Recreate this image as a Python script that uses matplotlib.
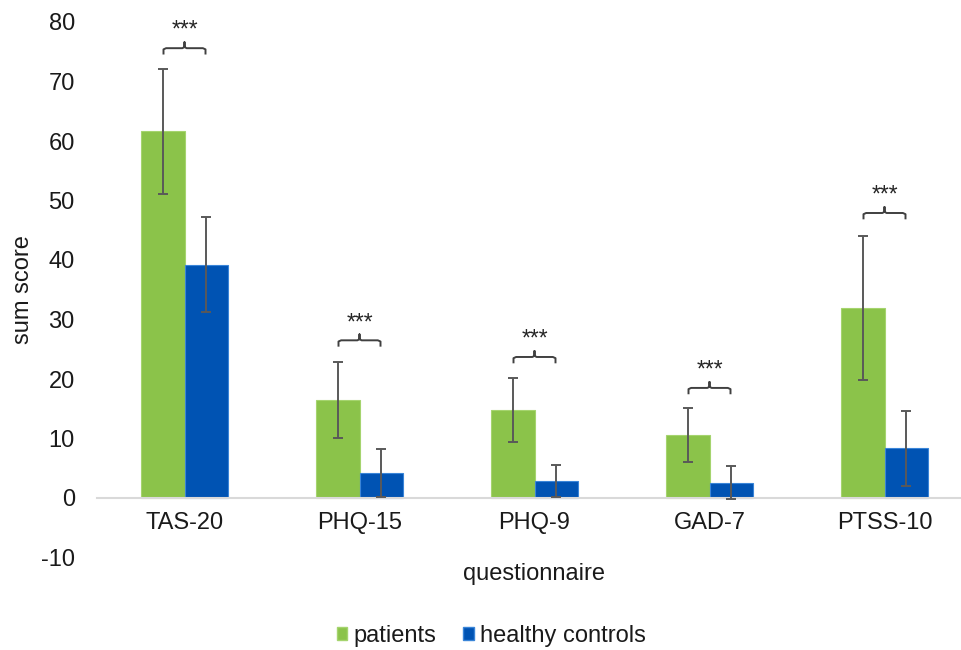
import numpy as np
import matplotlib
matplotlib.use("Agg")
import matplotlib.pyplot as plt
from matplotlib.patches import Patch

plt.rcParams['font.family'] = ['Liberation Sans', 'DejaVu Sans']
plt.rcParams['axes.unicode_minus'] = False

# values
questionnaires = ["TAS-20", "PHQ-15", "PHQ-9", "GAD-7", "PTSS-10"]
patients_mean = [61.6, 16.5, 14.8, 10.6, 31.9]
patients_sd = [10.5, 6.4, 5.4, 4.6, 12.1]
controls_mean = [39.2, 4.2, 2.85, 2.6, 8.4]
controls_sd = [8.0, 4.0, 2.7, 2.7, 6.3]
bracket_y = [75.6, 26.5, 23.7, 18.5, 47.9]
signif = ["***", "***", "***", "***", "***"]

green = "#8bc34a"
blue = "#0053b3"
err_col = "#595959"

fig = plt.figure(figsize=(9.61, 6.5), dpi=100)
ax = fig.add_axes([97 / 961, 92.5 / 650, 875 / 961, 535.5 / 650])

x = np.arange(len(questionnaires))
w = 0.25

ax.bar(x - w / 2, patients_mean, w, color=green, edgecolor="#a5d46e", linewidth=0.8,
       label="patients", zorder=2)
ax.bar(x + w / 2, controls_mean, w, color=blue, edgecolor="#3a85d8", linewidth=0.8,
       label="healthy controls", zorder=2)
ax.errorbar(x - w / 2, patients_mean, yerr=patients_sd, fmt="none", ecolor=err_col,
            elinewidth=1.4, capsize=3.6, capthick=1.4, zorder=3)
ax.errorbar(x + w / 2, controls_mean, yerr=controls_sd, fmt="none", ecolor=err_col,
            elinewidth=1.4, capsize=3.6, capthick=1.4, zorder=3)

# significance brackets
for xi, yb, s in zip(x, bracket_y, signif):
    x0, x1 = xi - 0.12, xi + 0.12
    bx = [x0, x0, x0 + 0.015, xi - 0.012, xi, xi, xi, xi + 0.012, x1 - 0.015, x1, x1]
    by = [yb - 0.9, yb - 0.2, yb, yb, yb + 0.2, yb + 1.0, yb + 0.2, yb, yb, yb - 0.2, yb - 0.9]
    ax.plot(bx, by, color="#404040", lw=1.4, zorder=3, solid_joinstyle="round")
    ax.text(xi, yb + 1.9, s, ha="center", va="baseline", fontsize=16.5, color="#262626")

ax.set_xlim(-0.5, 4.5)
ax.set_ylim(-10, 80)
ax.set_yticks(range(-10, 81, 10))
ax.set_xticks(x)
ax.set_xticklabels(questionnaires)

for side in ["top", "right", "left"]:
    ax.spines[side].set_visible(False)
ax.spines["bottom"].set_position(("data", 0))
ax.spines["bottom"].set_color("#d9d9d9")
ax.spines["bottom"].set_linewidth(1.5)

ax.tick_params(axis="x", length=0, pad=10, labelsize=17, labelcolor="#1a1a1a")
ax.tick_params(axis="y", length=0, pad=16, labelsize=17, labelcolor="#1a1a1a")

ax.set_xlabel("questionnaire", fontsize=17, color="#1a1a1a")
ax.xaxis.set_label_coords(0.5, -0.0095)
ax.set_ylabel("sum score", fontsize=17, color="#1a1a1a")
ax.yaxis.set_label_coords(-0.072, 0.5)

handles = [Patch(facecolor=green, edgecolor="#a5d46e"), Patch(facecolor=blue, edgecolor="#3a85d8")]
fig.legend(handles, ["patients", "healthy controls"], loc="center",
           bbox_to_anchor=(0.511, 0.022), ncol=2, frameon=False, fontsize=17,
           handlelength=0.45, handleheight=0.45, handletextpad=0.25, columnspacing=1.15,
           labelcolor="#1a1a1a")

fig.savefig("out.png", dpi=100)
